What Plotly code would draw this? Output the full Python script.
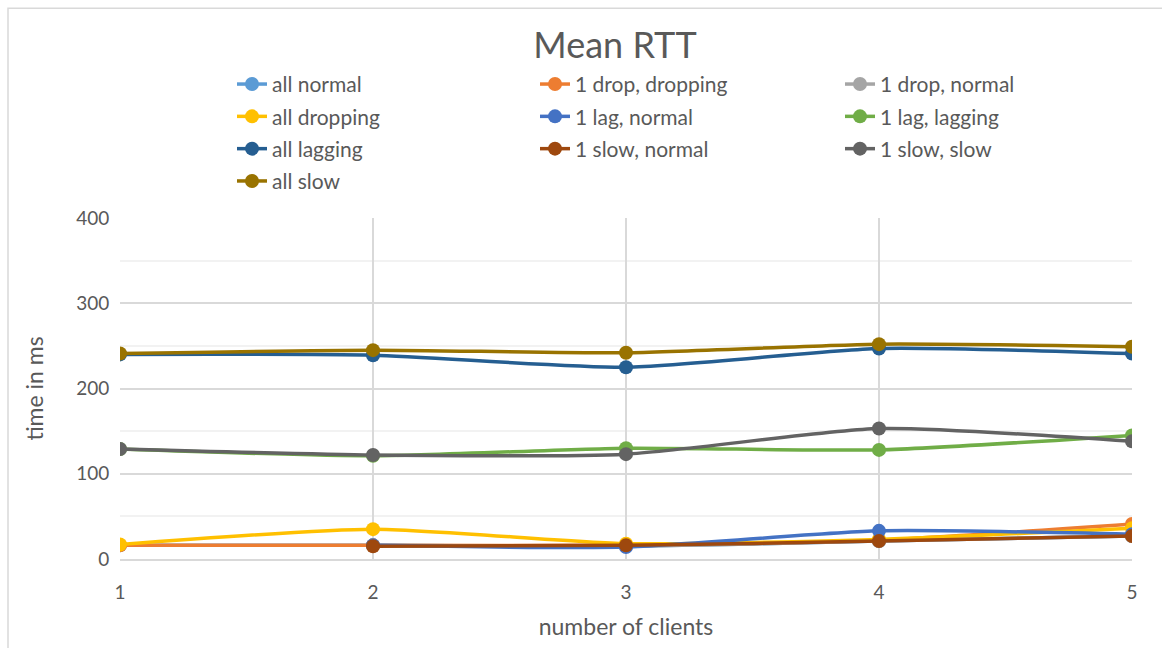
import plotly.graph_objects as go

clients = [1, 2, 3, 4, 5]

all_normal = [16, 16, 15, 21, 27]
drop_dropping = [16, 16, 16, 22, 41]
drop_normal = [None, 16, 15, 21, 27]
all_dropping = [17, 35, 18, 23, 36]
lag_normal = [None, 16, 14, 33, 29]
lag_lagging = [129, 121, 130, 128, 145]
all_lagging = [240, 239, 225, 247, 241]
slow_normal = [None, 15, 16, 21, 27]
slow_slow = [129, 122, 123, 153, 138]
all_slow = [241, 245, 242, 252, 249]

series = [
    ("all normal", all_normal, "#5B9BD5", "legend"),
    ("1 drop, dropping", drop_dropping, "#ED7D31", "legend2"),
    ("1 drop, normal", drop_normal, "#A5A5A5", "legend3"),
    ("all dropping", all_dropping, "#FFC000", "legend"),
    ("1 lag, normal", lag_normal, "#4472C4", "legend2"),
    ("1 lag, lagging", lag_lagging, "#70AD47", "legend3"),
    ("all lagging", all_lagging, "#255E91", "legend"),
    ("1 slow, normal", slow_normal, "#9E480E", "legend2"),
    ("1 slow, slow", slow_slow, "#636363", "legend3"),
    ("all slow", all_slow, "#997300", "legend"),
]

FONT = "Lato, Calibri, Carlito, sans-serif"
TXT = "#595959"

fig = go.Figure()
for i, (name, vals, col, lg) in enumerate(series):
    fig.add_trace(go.Scatter(
        x=clients, y=vals, name=name, mode="lines+markers",
        line=dict(color=col, width=3.5, shape="spline", smoothing=0.6),
        marker=dict(color=col, size=14),
        legend=lg, legendgroup=name,
    ))

W, H = 1162, 648
L, R, T, B = 120, 30, 218, 87
pw = W - L - R
ph = H - T - B

def px2x(px):
    return (px - L) / pw

def py2y(py):
    return (H - B - py) / ph

legend_common = dict(
    orientation="v", xanchor="left", yanchor="top",
    font=dict(family=FONT, size=21, color=TXT),
    bgcolor="rgba(0,0,0,0)", tracegroupgap=2,
    itemwidth=30,
)

fig.update_layout(
    width=W, height=H,
    margin=dict(l=L, r=R, t=T, b=B),
    paper_bgcolor="white", plot_bgcolor="white",
    font=dict(family=FONT, color=TXT),
    title=dict(text="Mean RTT", x=px2x(615), xanchor="center", xref="paper",
               y=1 - 45 / H, yanchor="middle",
               font=dict(family=FONT, size=36, color=TXT)),
    legend=dict(x=px2x(232), y=py2y(63), **legend_common),
    legend2=dict(x=px2x(535), y=py2y(63), **legend_common),
    legend3=dict(x=px2x(840), y=py2y(63), **legend_common),
    xaxis=dict(
        range=[1, 5], tickvals=clients, ticktext=[str(c) for c in clients],
        showgrid=True, gridcolor="#D9D9D9", gridwidth=1.5,
        zeroline=False, showline=True, linecolor="#D9D9D9", linewidth=1.5,
        ticks="outside", ticklen=15, tickcolor="rgba(0,0,0,0)",
        tickfont=dict(family=FONT, size=19, color=TXT),
        title=dict(text="number of clients", standoff=17,
                   font=dict(family=FONT, size=23, color=TXT)),
    ),
    yaxis=dict(
        range=[0, 400], tickvals=[0, 100, 200, 300, 400],
        showgrid=True, gridcolor="#D9D9D9", gridwidth=1.5,
        minor=dict(dtick=50, showgrid=True, gridcolor="#F2F2F2", gridwidth=1.5),
        zeroline=False, showline=False,
        ticks="outside", ticklen=6, tickcolor="rgba(0,0,0,0)",
        tickfont=dict(family=FONT, size=19, color=TXT),
        title=dict(text="time in ms", standoff=26,
                   font=dict(family=FONT, size=23, color=TXT)),
    ),
    shapes=[dict(type="rect", xref="paper", yref="paper",
                 x0=px2x(8), x1=px2x(1200), y0=py2y(700), y1=py2y(7),
                 line=dict(color="#D9D9D9", width=1.5), layer="below")],
)

fig.write_html("out.html")
